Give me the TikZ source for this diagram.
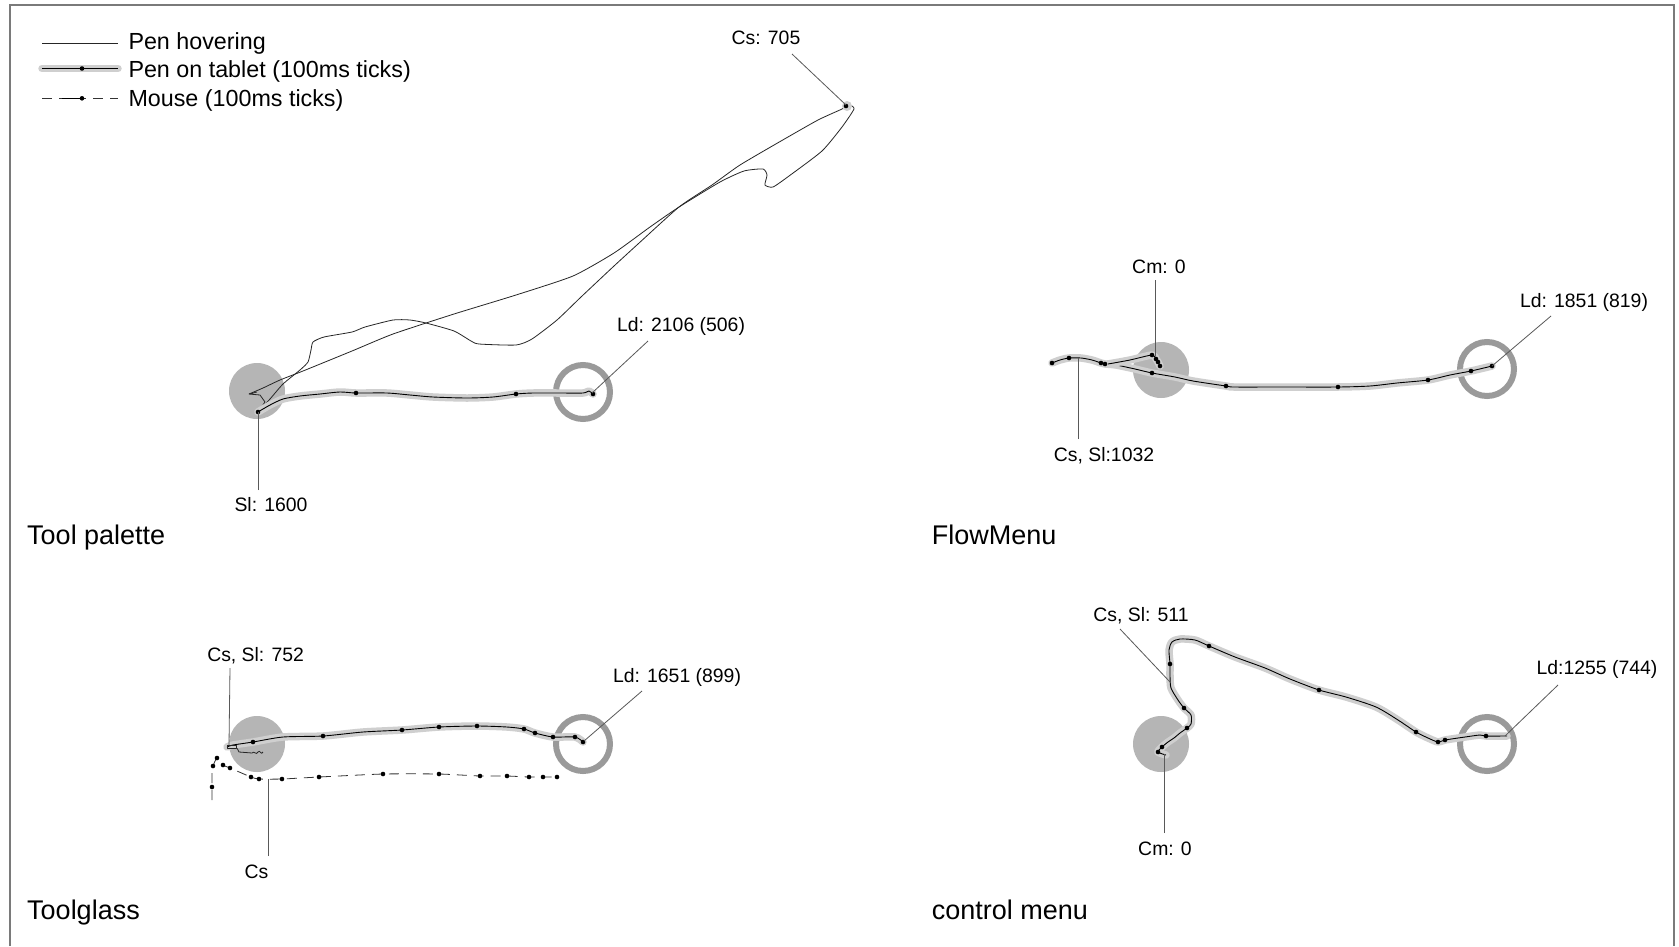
\documentclass[tikz,border=0pt]{standalone}
\usepackage{fontspec}
\setmainfont{Liberation Sans}
\definecolor{zoneGray}{HTML}{B5B5B5}
\definecolor{ringGray}{HTML}{9A9A9A}
\definecolor{haloGray}{HTML}{CFCFCF}
\definecolor{frameGray}{HTML}{7A7A7A}
% pen-on-tablet stroke: light halo under a thin dark line
\newcommand\penpath[1]{%
  \draw[halo] plot[smooth, tension=0.45] coordinates {#1};
  \draw[tablet] plot[smooth, tension=0.45] coordinates {#1};}
% 100 ms sample dots
\newcommand\tickdots[1]{\foreach \tx/\ty in {#1} \fill (\tx,\ty) circle[radius=2.3pt];}
\begin{document}
\begin{tikzpicture}[x=1pt,y=-1pt,
  halo/.style={draw=haloGray, line width=7.5pt, line cap=round, line join=round},
  tablet/.style={draw=black, line width=0.9pt, line join=round},
  hover/.style={draw=black!85, line width=0.8pt, line join=round},
  mouse/.style={draw=black!80, line width=0.8pt, dash pattern=on 10pt off 7pt},
  leader/.style={draw=black!65, line width=0.8pt},
  startzone/.style={fill=zoneGray},
  target/.style={draw=ringGray, line width=6pt},
  lbl/.style={font=\fontsize{19.4}{22}\selectfont, anchor=base, inner sep=0pt},
  ttl/.style={font=\fontsize{27}{32}\selectfont, anchor=base west, inner sep=0pt},
  lgd/.style={font=\fontsize{23.3}{28}\selectfont, anchor=base west, inner sep=0pt},
]
\useasboundingbox (0,0) rectangle (1679,946);
\fill[white] (0,0) rectangle (1679,946);
\draw[frameGray, line width=2pt] (10,946) -- (10,5) -- (1674,5) -- (1674,946);

% ---------------- legend ----------------
\draw[hover] (42,43.3) -- (118,43.3);
\node[lgd] (lgHover) at (128.3,49) {Pen hovering};
\draw[halo] (42,68.5) -- (118,68.5);
\draw[tablet] (42,68.5) -- (118,68.5);
\fill (82,68.5) circle[radius=2.3pt];
\node[lgd] (lgTablet) at (128.3,77.5) {Pen on tablet (100ms ticks)};
\draw[mouse] (42,98.3) -- (118,98.3);
\draw[tablet] (62,98.3) -- (82,98.3);
\fill (82,98.3) circle[radius=2.3pt];
\node[lgd] (lgMouse) at (128.3,106) {Mouse (100ms ticks)};

% ---------------- Tool palette ----------------
\fill[startzone] (257,391) circle[radius=28pt];
\draw[target] (583,392) circle[radius=27pt];
% hovering trajectories to the palette and back
\draw[hover] plot[smooth, tension=0.35] coordinates {(258,412) (270,399) (283,384) (300,370) (308,362) (311,350) (313,342) (324,337) (352,332) (365,327) (393,320) (410,320) (426,323) (454,331) (471,341) (479,344) (516,345) (532,339) (557,320) (581,297) (614,266) (638,244) (679,207) (712,185) (740,165) (781,141) (818,120) (842,109) (848,105)};
\draw[hover] plot[smooth, tension=0.35] coordinates {(249,394) (263,388) (280,380) (303,371) (352,351) (393,334) (454,314) (516,295) (573,276) (614,253) (650,227) (679,207) (720,182) (744,171) (763,169) (767,175) (765,185) (773,187) (789,176) (822,151) (842,127) (854,109) (850,105)};
\draw[hover] (249,394) -- (257,392) (249,394) -- (260,395) -- (265,402) -- (258,412);
\fill[haloGray] (847,106) circle[radius=5pt];
\fill (846,106) circle[radius=2.3pt];
\penpath{(258,412) (270,405) (283,399) (300,396) (320,394) (340,392) (356,393) (387,393) (410,395) (433,397) (467,398) (493,397) (516,394) (533,393) (560,393) (583,393) (589,391) (593,394)}
\tickdots{258/412, 356/393, 516/394, 593/394}
\node[lbl] (tpCs) at (766,44.5) {Cs: 705};
\coordinate (tpCsA) at (792,54); \coordinate (tpCsB) at (846,105);
\draw[leader] (tpCsA) -- (tpCsB);
\node[lbl] (tpLd) at (681,331.5) {Ld: 2106 (506)};
\coordinate (tpLdA) at (648,341); \coordinate (tpLdB) at (592,393);
\draw[leader] (tpLdA) -- (tpLdB);
\node[lbl] (tpSl) at (271,511) {Sl: 1600};
\coordinate (tpSlA) at (258,490); \coordinate (tpSlB) at (258,412);
\draw[leader] (tpSlA) -- (tpSlB);
\node[ttl] (tpTitle) at (27,544) {Tool palette};

% ---------------- FlowMenu ----------------
\fill[startzone] (1161,370) circle[radius=28pt];
\draw[target] (1487,369) circle[radius=27pt];
\penpath{(1052,363) (1060,360) (1069,358) (1081,358) (1092,360) (1101,363) (1105,364) (1116,365) (1135,369) (1152,373) (1175,377) (1193,381) (1226,386) (1234,387) (1280,387) (1338,387) (1370,386) (1397,383) (1428,380) (1450,375) (1471,371) (1492,366)}
\penpath{(1108,364) (1130,360) (1152,355) (1156,359) (1158,362) (1160,366)}
\tickdots{1052/363, 1069/358, 1101/363, 1105/364, 1152/373, 1226/386, 1338/387, 1428/380, 1471/371, 1492/366, 1152/355, 1156/359, 1158/362, 1160/366}
\node[lbl] (fmCm) at (1159,273.6) {Cm: 0};
\coordinate (fmCmA) at (1155,280); \coordinate (fmCmB) at (1155,356);
\draw[leader] (fmCmA) -- (fmCmB);
\node[lbl] (fmCs) at (1104,461) {Cs, Sl:1032};
\coordinate (fmCsA) at (1078,439); \coordinate (fmCsB) at (1078,358);
\draw[leader] (fmCsA) -- (fmCsB);
\node[lbl] (fmLd) at (1584,307) {Ld: 1851 (819)};
\coordinate (fmLdA) at (1551,316); \coordinate (fmLdB) at (1492,366);
\draw[leader] (fmLdA) -- (fmLdB);
\node[ttl] (fmTitle) at (931.6,544) {FlowMenu};

% ---------------- Toolglass ----------------
\fill[startzone] (257,744) circle[radius=28pt];
\draw[target] (583,744) circle[radius=27pt];
% mouse trajectory
\draw[mouse] plot[smooth, tension=0.35] coordinates {(212,800) (212,787) (212,773) (213,766) (217,758) (223,765) (230,768) (251,777) (259,779) (282,779) (319,777) (383,774) (439,774) (480,776) (507,776) (529,777) (543,777) (557,777)};
\tickdots{212/787, 213/766, 217/758, 223/765, 230/768, 251/777, 259/779, 282/779, 319/777, 383/774, 439/774, 480/776, 507/776, 529/777, 543/777, 557/777}
\draw[hover] (236,746) -- (239,752) -- (252,753) .. controls (254,750) and (256,756) .. (258,752) .. controls (260,749) and (261,756) .. (263,752);
\penpath{(227,747) (233,745) (253,742) (283,737) (323,736) (363,732) (402,730) (439,727) (477,726) (507,727) (524,729) (535,733) (553,737) (575,737) (583,742)}
\draw[hover] (227,745) rectangle (236,748);
\tickdots{253/742, 323/736, 402/730, 439/727, 477/726, 524/729, 535/733, 553/737, 575/737, 583/742}
\node[lbl] (tgCs) at (255.6,661) {Cs, Sl: 752};
\coordinate (tgCsA) at (230,668); \coordinate (tgCsB) at (229,745);
\draw[leader] (tgCsA) -- (tgCsB);
\node[lbl] (tgLd) at (677,682) {Ld: 1651 (899)};
\coordinate (tgLdA) at (642,691); \coordinate (tgLdB) at (584,741);
\draw[leader] (tgLdA) -- (tgLdB);
\node[lbl] (tgMs) at (256.5,878.6) {Cs};
\coordinate (tgMsA) at (268,856); \coordinate (tgMsB) at (268,779);
\draw[leader] (tgMsA) -- (tgMsB);
\node[ttl] (tgTitle) at (27,919) {Toolglass};

% ---------------- control menu ----------------
\fill[startzone] (1161,744) circle[radius=28pt];
\draw[target] (1487,744) circle[radius=27pt];
\penpath{(1166,755) (1158,752) (1162,747) (1168,742) (1174,738) (1180,733) (1187,728) (1191,724) (1191,715) (1184,708) (1178,700) (1171,688) (1170,676) (1170,664) (1169,650) (1172,642) (1180,639) (1195,640) (1209,646) (1235,657) (1265,668) (1290,679) (1319,690) (1346,697) (1376,707) (1398,720) (1416,732) (1428,738) (1438,742) (1445,740) (1465,737) (1480,735) (1486,736) (1507,736)}
\tickdots{1158/752, 1162/747, 1187/728, 1184/708, 1170/664, 1209/646, 1319/690, 1416/732, 1438/742, 1445/740, 1486/736}
\node[lbl] (cmCs) at (1141,621.6) {Cs, Sl: 511};
\coordinate (cmCsA) at (1120,629); \coordinate (cmCsB) at (1170,682);
\draw[leader] (cmCsA) -- (cmCsB);
\node[lbl] (cmLd) at (1597,674) {Ld:1255 (744)};
\coordinate (cmLdA) at (1558,685); \coordinate (cmLdB) at (1505,736);
\draw[leader] (cmLdA) -- (cmLdB);
\node[lbl] (cmCm) at (1165,855) {Cm: 0};
\coordinate (cmCmA) at (1164,833); \coordinate (cmCmB) at (1164,754);
\draw[leader] (cmCmA) -- (cmCmB);
\node[ttl] (cmTitle) at (931.6,919) {control menu};
\end{tikzpicture}
\end{document}
